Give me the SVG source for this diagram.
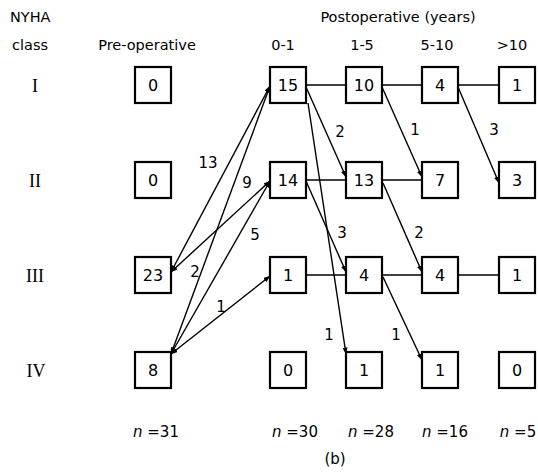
<svg xmlns="http://www.w3.org/2000/svg" width="538" height="473" viewBox="0 0 538 473">
<defs>
<marker id="ah" viewBox="0 0 7 5" refX="6.5" refY="2.5" markerWidth="7" markerHeight="5" markerUnits="userSpaceOnUse" orient="auto-start-reverse">
<path d="M0,0 L7,2.5 L0,5 z" fill="#000"/>
</marker>
<style>
text{font-family:"DejaVu Sans","Liberation Sans",sans-serif;fill:#000}
.h{font-size:14.5px}
.r{font-family:"Liberation Serif","DejaVu Serif",serif;font-size:18px;text-anchor:middle}
.bx{fill:#fff;stroke:#000;stroke-width:2.2}
.v{font-size:16px;text-anchor:middle}
.lb{font-size:15px;text-anchor:middle}
.c line{stroke:#000;stroke-width:1.4}
.a{marker-end:url(#ah)}
.b{marker-start:url(#ah);marker-end:url(#ah)}
.n{font-size:15px;text-anchor:middle}
</style>
</defs>
<rect width="538" height="473" fill="#fff"/>
<g id="headers">
<text class="h" x="10" y="22">NYHA</text>
<text class="h" x="12" y="50">class</text>
<text class="h" x="147" y="50" text-anchor="middle">Pre-operative</text>
<text class="h" x="398" y="22" text-anchor="middle">Postoperative (years)</text>
<text class="h" x="283" y="50" text-anchor="middle">0-1</text>
<text class="h" x="362" y="50" text-anchor="middle">1-5</text>
<text class="h" x="437" y="50" text-anchor="middle">5-10</text>
<text class="h" x="512" y="50" text-anchor="middle">&gt;10</text>
</g>
<g id="rowlabels">
<text class="r" x="35" y="92">I</text>
<text class="r" x="35" y="187">II</text>
<text class="r" x="35" y="282">III</text>
<text class="r" x="36" y="377">IV</text>
</g>
<g id="connectors" class="c">
<line class="b" x1="171" y1="272" x2="270" y2="86"/>
<line class="b" x1="171" y1="354" x2="270" y2="86"/>
<line class="b" x1="171" y1="272" x2="270" y2="181"/>
<line class="b" x1="171" y1="354" x2="270" y2="181"/>
<line class="b" x1="171" y1="354" x2="270" y2="276"/>
<line x1="306" y1="85" x2="346" y2="85"/>
<line class="a" x1="306" y1="87" x2="346" y2="177"/>
<line class="a" x1="308" y1="103" x2="346" y2="354"/>
<line x1="306" y1="180" x2="346" y2="180"/>
<line class="a" x1="306" y1="181" x2="346" y2="272"/>
<line x1="306" y1="275" x2="346" y2="275"/>
<line x1="382" y1="85" x2="422" y2="85"/>
<line class="a" x1="382" y1="87" x2="422" y2="177"/>
<line x1="382" y1="180" x2="422" y2="180"/>
<line class="a" x1="383" y1="183" x2="422" y2="272"/>
<line x1="382" y1="275" x2="422" y2="275"/>
<line class="a" x1="383" y1="277" x2="422" y2="360"/>
<line x1="458" y1="85" x2="499" y2="85"/>
<line class="a" x1="458" y1="87" x2="499" y2="183"/>
<line x1="458" y1="275" x2="499" y2="275"/>
</g>
<g id="edgelabels">
<text class="lb" x="208" y="168">13</text>
<text class="lb" x="247" y="188">9</text>
<text class="lb" x="195" y="277">2</text>
<text class="lb" x="255" y="240">5</text>
<text class="lb" x="221" y="312">1</text>
<text class="lb" x="340" y="137">2</text>
<text class="lb" x="329" y="340">1</text>
<text class="lb" x="342" y="238">3</text>
<text class="lb" x="415" y="135">1</text>
<text class="lb" x="419" y="238">2</text>
<text class="lb" x="396" y="340">1</text>
<text class="lb" x="494" y="135">3</text>
</g>
<g id="p1"><rect class="bx" x="135" y="67" width="36" height="36"/><text class="v" x="153" y="91">0</text></g>
<g id="p2"><rect class="bx" x="135" y="162" width="36" height="36"/><text class="v" x="153" y="186">0</text></g>
<g id="p3"><rect class="bx" x="135" y="257" width="36" height="36"/><text class="v" x="153" y="281">23</text></g>
<g id="p4"><rect class="bx" x="135" y="352" width="36" height="36"/><text class="v" x="153" y="376">8</text></g>
<g id="a1"><rect class="bx" x="270" y="67" width="36" height="36"/><text class="v" x="288" y="91">15</text></g>
<g id="a2"><rect class="bx" x="270" y="162" width="36" height="36"/><text class="v" x="288" y="186">14</text></g>
<g id="a3"><rect class="bx" x="270" y="257" width="36" height="36"/><text class="v" x="288" y="281">1</text></g>
<g id="a4"><rect class="bx" x="270" y="352" width="36" height="36"/><text class="v" x="288" y="376">0</text></g>
<g id="b1"><rect class="bx" x="346" y="67" width="36" height="36"/><text class="v" x="364" y="91">10</text></g>
<g id="b2"><rect class="bx" x="346" y="162" width="36" height="36"/><text class="v" x="364" y="186">13</text></g>
<g id="b3"><rect class="bx" x="346" y="257" width="36" height="36"/><text class="v" x="364" y="281">4</text></g>
<g id="b4"><rect class="bx" x="346" y="352" width="36" height="36"/><text class="v" x="364" y="376">1</text></g>
<g id="c1"><rect class="bx" x="422" y="67" width="36" height="36"/><text class="v" x="440" y="91">4</text></g>
<g id="c2"><rect class="bx" x="422" y="162" width="36" height="36"/><text class="v" x="440" y="186">7</text></g>
<g id="c3"><rect class="bx" x="422" y="257" width="36" height="36"/><text class="v" x="440" y="281">4</text></g>
<g id="c4"><rect class="bx" x="422" y="352" width="36" height="36"/><text class="v" x="440" y="376">1</text></g>
<g id="d1"><rect class="bx" x="499" y="67" width="36" height="36"/><text class="v" x="517" y="91">1</text></g>
<g id="d2"><rect class="bx" x="499" y="162" width="36" height="36"/><text class="v" x="517" y="186">3</text></g>
<g id="d3"><rect class="bx" x="499" y="257" width="36" height="36"/><text class="v" x="517" y="281">1</text></g>
<g id="d4"><rect class="bx" x="499" y="352" width="36" height="36"/><text class="v" x="517" y="376">0</text></g>
<g id="counts">
<text class="n" x="156" y="437"><tspan font-style="italic">n</tspan> =31</text>
<text class="n" x="295" y="437"><tspan font-style="italic">n</tspan> =30</text>
<text class="n" x="371" y="437"><tspan font-style="italic">n</tspan> =28</text>
<text class="n" x="445" y="437"><tspan font-style="italic">n</tspan> =16</text>
<text class="n" x="518" y="437"><tspan font-style="italic">n</tspan> =5</text>
<text class="n" x="335" y="464">(b)</text>
</g>
</svg>
